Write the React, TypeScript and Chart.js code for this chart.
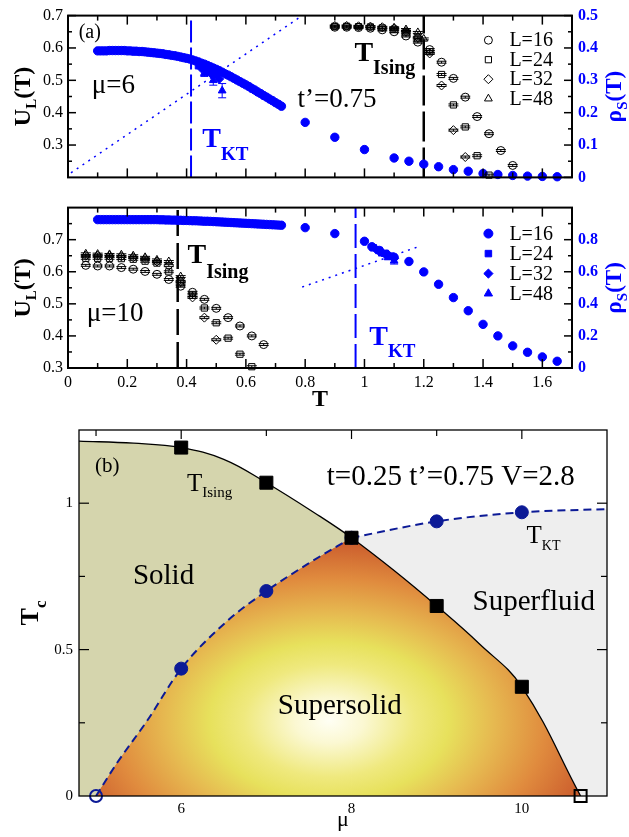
import React, { useEffect, useRef } from 'react';
import { Chart, registerables } from 'chart.js';

Chart.register(...registerables);

const SERIF = '"Liberation Serif", "Times New Roman", serif';
const BLUE = '#0000ff';
const NAVY = '#0c1a96';
const OLIVE = '#d5d5ad';
const GREY = '#eeeeee';
const F = (size: number, bold = false) => `${bold ? 'bold ' : ''}${size}px ${SERIF}`;

// ================= Panel (a), upper: mu = 6 =================
const tBand = [0.10,0.11,0.12,0.13,0.14,0.15,0.16,0.17,0.18,0.19,0.20,0.21,0.22,0.23,0.24,0.25,0.26,0.27,0.28,0.29,0.30,0.31,0.32,0.33,0.34,0.35,0.36,0.37,0.38,0.39,0.40,0.41,0.42,0.43,0.44,0.45,0.46,0.47,0.48,0.49,0.50,0.51,0.52,0.53,0.54,0.55,0.56,0.57,0.58,0.59,0.60,0.61,0.62,0.63,0.64,0.65,0.66,0.67,0.68,0.69,0.70,0.71,0.72];
const rhoBandTop = [0.391,0.391,0.391,0.391,0.392,0.392,0.392,0.392,0.392,0.392,0.391,0.391,0.390,0.390,0.389,0.389,0.388,0.387,0.386,0.385,0.384,0.383,0.382,0.380,0.379,0.377,0.376,0.374,0.372,0.370,0.368,0.366,0.363,0.360,0.357,0.353,0.350,0.346,0.342,0.338,0.334,0.330,0.325,0.320,0.316,0.311,0.306,0.301,0.296,0.291,0.286,0.281,0.275,0.270,0.264,0.259,0.253,0.248,0.242,0.237,0.231,0.226,0.220];
const tTailTop = [0.8,0.9,1.0,1.1,1.15,1.2,1.25,1.3,1.35,1.4,1.45,1.5,1.55,1.6,1.65];
const rhoTailTop = [0.170,0.124,0.086,0.060,0.050,0.041,0.033,0.024,0.019,0.012,0.009,0.006,0.004,0.003,0.002];
const tRho24Top = [0.44,0.46,0.48,0.50];
const rho24Top = [0.345,0.336,0.327,0.318];
const tRho32Top = [0.45,0.47,0.49,0.51];
const rho32Top = [0.337,0.326,0.314,0.304];
const tRho48Top = [0.46,0.49,0.52];
const rho48Top = [0.322,0.300,0.268];
const err48Top = [0.010,0.015,0.022];
const critTopT = [0.01, 0.79];
const critTopRho = [0.014, 0.5];
const tKTTop = [0.415, 0.415];
const tIsingTop = [1.2, 1.2];
const uSpanTop = [0.2, 0.7];

const tUTop = [0.9,0.94,0.98,1.02,1.06,1.10,1.14,1.18,1.22,1.26,1.30,1.34,1.38,1.42,1.46,1.50];
const u16Top = [0.664,0.664,0.663,0.661,0.656,0.650,0.637,0.618,0.595,0.556,0.506,0.448,0.388,0.335,0.283,0.237];
const u24Top = [0.667,0.667,0.666,0.665,0.662,0.658,0.647,0.628,0.588,0.518,0.424,0.356,0.267,0.207];
const u32Top = [0.668,0.668,0.667,0.666,0.664,0.661,0.652,0.633,0.583,0.484,0.346,0.263];
const tU48Top = [1.10,1.14,1.18,1.20];
const u48Top = [0.662,0.657,0.648,0.628];

// ================= Panel (a), lower: mu = 10 =================
const rhoBandMid = [0.925,0.925,0.925,0.925,0.925,0.925,0.925,0.925,0.925,0.925,0.925,0.925,0.925,0.925,0.925,0.925,0.925,0.925,0.925,0.925,0.925,0.924,0.924,0.923,0.923,0.922,0.922,0.921,0.921,0.920,0.920,0.919,0.918,0.918,0.917,0.916,0.915,0.915,0.914,0.913,0.912,0.911,0.910,0.909,0.908,0.907,0.906,0.905,0.904,0.903,0.902,0.901,0.900,0.899,0.898,0.897,0.896,0.895,0.894,0.893,0.892,0.891,0.890];
const tTailMid = [0.8,0.9,1.0,1.025,1.05,1.075,1.1,1.15,1.2,1.25,1.3,1.35,1.4,1.45,1.5,1.55,1.6,1.65];
const rhoTailMid = [0.875,0.838,0.790,0.756,0.733,0.708,0.690,0.664,0.599,0.522,0.439,0.357,0.272,0.200,0.138,0.098,0.069,0.042];
const tRho24Mid = [1.03,1.05,1.07,1.09];
const rho24Mid = [0.750,0.733,0.715,0.698];
const tRho32Mid = [1.04,1.06,1.08,1.10];
const rho32Mid = [0.738,0.720,0.702,0.684];
const tRho48Mid = [1.06,1.08,1.10];
const rho48Mid = [0.712,0.690,0.668];
const err48Mid = [0.010,0.015,0.020];
const critMidT = [0.79, 1.18];
const critMidRho = [0.505, 0.755];
const tIsingMid = [0.37, 0.37];
const tKTMid = [0.97, 0.97];
const uSpanMid = [0.3, 0.8];

const tUMid = [0.06,0.10,0.14,0.18,0.22,0.26,0.30,0.34,0.38,0.42,0.46,0.50,0.54,0.58,0.62,0.66];
const u16Mid = [0.620,0.618,0.618,0.613,0.608,0.601,0.592,0.576,0.555,0.536,0.514,0.486,0.457,0.431,0.400,0.373];
const u24Mid = [0.642,0.642,0.642,0.641,0.639,0.633,0.627,0.600,0.565,0.527,0.487,0.441,0.393,0.343,0.304];
const u32Mid = [0.650,0.650,0.649,0.648,0.645,0.640,0.632,0.619,0.570,0.520,0.457,0.388];
const u48Mid = [0.656,0.655,0.654,0.653,0.650,0.645,0.637,0.632,0.585];

const legendLabels = ['L=16', 'L=24', 'L=32', 'L=48'];

// tick values
const xTickLabels = [0, 0.2, 0.4, 0.6, 0.8, 1, 1.2, 1.4, 1.6];
const xMajor = [0.2, 0.4, 0.6, 0.8, 1, 1.2, 1.4, 1.6];
const xMinor = [0.1, 0.3, 0.5, 0.7, 0.9, 1.1, 1.3, 1.5];
const uLabelsTop = [0.3, 0.4, 0.5, 0.6, 0.7];
const uMinorTop = [0.25, 0.35, 0.45, 0.55, 0.65];
const rhoLabelsTop = [0, 0.1, 0.2, 0.3, 0.4, 0.5];
const rhoMinorTop = [0.05, 0.15, 0.25, 0.35, 0.45];
const uLabelsMid = [0.3, 0.4, 0.5, 0.6, 0.7];
const uMinorMid = [0.35, 0.45, 0.55, 0.65, 0.75];
const rhoLabelsMid = [0, 0.2, 0.4, 0.6, 0.8];
const rhoMajorMid = [0.2, 0.4, 0.6, 0.8];
const rhoMinorMid = [0.1, 0.3, 0.5, 0.7, 0.9];

// ================= Panel (b): phase diagram =================
const isingMu = [4.8, 5.44, 6.0, 6.5, 7.0, 7.63, 8.0, 8.5, 9.0, 9.5, 10.0, 10.69];
const isingT = [1.212, 1.205, 1.19, 1.15, 1.07, 0.955, 0.882, 0.77, 0.649, 0.52, 0.373, 0];
const isingRightMu = [8.0, 8.5, 9.0, 9.5, 10.0, 10.69];
const isingRightT = [0.882, 0.77, 0.649, 0.52, 0.373, 0];
const ktLeftMu = [5.0, 5.24, 5.6, 6.0, 6.53, 7.0, 7.5, 8.0];
const ktLeftT = [0, 0.11, 0.257, 0.435, 0.595, 0.70, 0.795, 0.882];
const ktRightMu = [8.0, 9.0, 10.0, 11.0];
const ktRightT = [0.882, 0.938, 0.969, 0.98];
const supersolidMu = [...ktLeftMu, ...isingRightMu.slice(1)];
const supersolidT = [...ktLeftT, ...isingRightT.slice(1)];
const sqMu = [6, 7, 8, 9, 10];
const sqT = [1.19, 1.07, 0.882, 0.649, 0.373];
const openSqMu = [10.69];
const openSqT = [0];
const circMu = [6, 7, 8, 9, 10];
const circT = [0.435, 0.70, 0.882, 0.938, 0.969];
const openCircMu = [5];
const openCircT = [0];
const muLabels = [6, 8, 10];
const muMajor = [6, 8, 10];
const muMinor = [5, 7, 9];
const tcLabels = [0, 0.5, 1];
const tcMajor = [0.5, 1];
const tcMinor = [0.25, 0.75];

// supersolid shading (style)
const gradCenter = [7.74, 0.257];
const gradRadius = [3.35, 0.64];
const gradStops: [number, string][] = [[0, '#fffff4'], [0.12, '#fbf8d2'], [0.3, '#efe97e'], [0.42, '#e7e15c'], [0.58, '#e6b850'], [0.76, '#e08b3e'], [0.92, '#cf6530'], [1, '#c55427']];

// ================= helpers =================
type Part = { t: string; font: string; dy?: number };
const pts = (xs: number[], ys: number[]) => xs.map((x, i) => ({ x, y: ys[i] }));

function drawParts(ctx: CanvasRenderingContext2D, parts: Part[], x: number, y: number, align: 'left' | 'center') {
  let w = 0;
  for (const p of parts) { ctx.font = p.font; w += ctx.measureText(p.t).width; }
  let cx = align === 'center' ? x - w / 2 : x;
  ctx.textAlign = 'left';
  ctx.textBaseline = 'alphabetic';
  for (const p of parts) {
    ctx.font = p.font;
    ctx.fillText(p.t, cx, y + (p.dy || 0));
    cx += ctx.measureText(p.t).width;
  }
}

function drawMarker(ctx: CanvasRenderingContext2D, style: string, x: number, y: number, r: number, fill: string | null, stroke: string | null) {
  ctx.beginPath();
  if (style === 'circle') ctx.arc(x, y, r, 0, Math.PI * 2);
  else if (style === 'rect') { const s = r * Math.SQRT1_2; ctx.rect(x - s, y - s, 2 * s, 2 * s); }
  else if (style === 'rectRot') { ctx.moveTo(x - r, y); ctx.lineTo(x, y - r); ctx.lineTo(x + r, y); ctx.lineTo(x, y + r); ctx.closePath(); }
  else {
    for (let k = 0; k < 3; k++) {
      const a = (k * 2 * Math.PI) / 3;
      const px = x + Math.sin(a) * r, py = y - Math.cos(a) * r;
      if (k) ctx.lineTo(px, py); else ctx.moveTo(px, py);
    }
    ctx.closePath();
  }
  if (fill) { ctx.fillStyle = fill; ctx.fill(); }
  if (stroke) { ctx.strokeStyle = stroke; ctx.lineWidth = 1; ctx.stroke(); }
}

function deco(cfg: any) {
  return {
    id: 'deco',
    afterDatasetsDraw(chart: any) {
      const ctx: CanvasRenderingContext2D = chart.ctx;
      const a = chart.chartArea;
      ctx.save();
      chart.data.datasets.forEach((ds: any, i: number) => {
        if (ds.errs === undefined) return;
        const meta = chart.getDatasetMeta(i);
        const ys = chart.scales[ds.yAxisID || 'y'];
        ctx.strokeStyle = ds.errColor || '#000';
        ctx.lineWidth = 1;
        meta.data.forEach((pt: any, j: number) => {
          const v = ds.data[j].y;
          const e = Array.isArray(ds.errs) ? ds.errs[j] : ds.errs;
          const cap = ds.cap || 4;
          const y1 = ys.getPixelForValue(v + e), y2 = ys.getPixelForValue(v - e);
          ctx.beginPath();
          ctx.moveTo(pt.x, y1); ctx.lineTo(pt.x, y2);
          ctx.moveTo(pt.x - cap, y1); ctx.lineTo(pt.x + cap, y1);
          ctx.moveTo(pt.x - cap, y2); ctx.lineTo(pt.x + cap, y2);
          ctx.stroke();
        });
      });
      ctx.strokeStyle = '#000';
      ctx.lineWidth = cfg.frameWidth;
      ctx.strokeRect(a.left, a.top, a.right - a.left, a.bottom - a.top);
      ctx.lineWidth = cfg.tickWidth;
      for (const tk of cfg.ticks) {
        const s = chart.scales[tk.scale];
        const draw = (vals: number[], len: number) => {
          for (const v of vals) {
            const p = s.getPixelForValue(v);
            for (const e of tk.edges) {
              ctx.beginPath();
              if (e === 'bottom') { ctx.moveTo(p, a.bottom); ctx.lineTo(p, a.bottom - len); }
              else if (e === 'top') { ctx.moveTo(p, a.top); ctx.lineTo(p, a.top + len); }
              else if (e === 'left') { ctx.moveTo(a.left, p); ctx.lineTo(a.left + len, p); }
              else { ctx.moveTo(a.right, p); ctx.lineTo(a.right - len, p); }
              ctx.stroke();
            }
          }
        };
        draw(tk.major, tk.ml);
        draw(tk.minor, tk.nl);
      }
      ctx.restore();
    },
    afterDraw(chart: any) {
      const ctx: CanvasRenderingContext2D = chart.ctx;
      const a = chart.chartArea;
      ctx.save();
      for (const tx of cfg.texts || []) {
        const x = chart.scales.x.getPixelForValue(tx.x);
        const y = chart.scales[tx.axis || 'y'].getPixelForValue(tx.y);
        ctx.fillStyle = tx.color || '#000';
        drawParts(ctx, tx.parts, x, y, 'left');
      }
      if (cfg.legend) {
        const L = cfg.legend;
        const x0 = chart.scales.x.getPixelForValue(L.x);
        const y0 = chart.scales[L.axis].getPixelForValue(L.y);
        L.items.forEach((it: any, k: number) => {
          const y = y0 + k * L.row;
          drawMarker(ctx, it.style, x0, y, it.r, it.fill, it.stroke);
          ctx.fillStyle = '#000';
          ctx.font = L.font;
          ctx.textAlign = 'left';
          ctx.textBaseline = 'middle';
          ctx.fillText(it.label, x0 + L.dx, y + 1);
        });
      }
      for (const t of cfg.titles || []) {
        ctx.fillStyle = t.color || '#000';
        if (t.side === 'bottom') {
          drawParts(ctx, t.parts, (a.left + a.right) / 2, a.bottom + t.off, 'center');
        } else {
          const bx = (t.side === 'left' ? a.left : a.right) + t.off;
          const cy = (a.top + a.bottom) / 2;
          ctx.save();
          ctx.translate(bx, cy);
          ctx.rotate(-Math.PI / 2);
          drawParts(ctx, t.parts, 0, 0, 'center');
          ctx.restore();
        }
      }
      ctx.restore();
    },
  };
}

function axis(o: any) {
  return {
    type: 'linear',
    position: o.position,
    min: o.min,
    max: o.max,
    grid: { display: false, drawTicks: false },
    border: { display: false },
    ticks: {
      display: o.show !== false,
      autoSkip: false,
      maxRotation: 0,
      padding: o.pad ?? 5,
      color: o.color ?? '#000',
      font: o.font,
      callback: (v: number) => String(v),
    },
    afterBuildTicks: (s: any) => { s.ticks = o.labels.map((v: number) => ({ value: v })); },
    afterFit: (s: any) => {
      if (o.width !== undefined) s.width = o.width;
      if (o.height !== undefined) s.height = o.height;
    },
  };
}

function marks(xs: number[], ys: number[], yAxisID: string, style: string, r: number, fill: string, stroke: string, extra: any = {}) {
  return {
    type: 'scatter', data: pts(xs, ys), yAxisID, pointStyle: style, pointRadius: r,
    pointBackgroundColor: fill, pointBorderColor: stroke, pointBorderWidth: 1,
    showLine: false, clip: false, order: 1, ...extra,
  };
}

function segLine(xs: number[], ys: number[], yAxisID: string, color: string, width: number, dash: number[], extra: any = {}) {
  return {
    type: 'line', data: pts(xs, ys), yAxisID, borderColor: color, borderWidth: width, borderDash: dash,
    pointRadius: 0, fill: false, tension: 0, order: 10, ...extra,
  };
}

const common = (padTop: number, padRight: number) => ({
  responsive: false,
  animation: false,
  events: [],
  layout: { padding: { top: padTop, right: padRight, left: 0, bottom: 0 }, autoPadding: false },
  plugins: { legend: { display: false }, tooltip: { enabled: false } },
});

const tickFont = { family: SERIF, size: 16 };
const rhoFont = { family: SERIF, size: 16, weight: 'bold' };
const NONE = 'rgba(0,0,0,0)';

const uTitle: Part[] = [{ t: 'U', font: F(24, true) }, { t: 'L', font: F(15, true), dy: 6 }, { t: '(T)', font: F(24, true) }];
const rhoTitle: Part[] = [{ t: 'ρ', font: F(23, true) }, { t: 'S', font: F(15, true), dy: 6 }, { t: '(T)', font: F(23, true) }];

function blackSets(t16: number[], u16: number[], u24: number[], u32: number[], t48: number[], u48: number[]) {
  const ex = { errs: 0.003, cap: 5 };
  return [
    marks(t16, u16, 'y', 'circle', 4, NONE, '#000', ex),
    marks(t16.slice(0, u24.length), u24, 'y', 'rect', 4.4, NONE, '#000', ex),
    marks(t16.slice(0, u32.length), u32, 'y', 'rectRot', 4.5, NONE, '#000', ex),
    marks(t48, u48, 'y', 'triangle', 4.5, NONE, '#000', ex),
  ];
}

function buildA() {
  return {
    type: 'scatter',
    data: {
      datasets: [
        segLine(tKTTop, uSpanTop, 'y', BLUE, 2, [22, 5]),
        segLine(tIsingTop, uSpanTop, 'y', '#000', 2.5, [30, 6]),
        segLine(critTopT, critTopRho, 'y1', BLUE, 1.5, [2, 5]),
        marks(tBand, rhoBandTop, 'y1', 'circle', 4.2, BLUE, BLUE, { order: 3 }),
        marks(tTailTop, rhoTailTop, 'y1', 'circle', 4.2, BLUE, BLUE, { order: 3 }),
        marks(tRho24Top, rho24Top, 'y1', 'rect', 4.5, BLUE, BLUE, { order: 3 }),
        marks(tRho32Top, rho32Top, 'y1', 'rectRot', 4.5, BLUE, BLUE, { order: 3 }),
        marks(tRho48Top, rho48Top, 'y1', 'triangle', 4.5, BLUE, BLUE, { order: 3, errs: err48Top, errColor: BLUE, cap: 4 }),
        ...blackSets(tUTop, u16Top, u24Top, u32Top, tU48Top, u48Top),
      ],
    },
    options: {
      ...common(15, 0),
      scales: {
        x: axis({ position: 'bottom', min: 0, max: 1.7, labels: xTickLabels, show: false, height: 3, font: tickFont }),
        y: axis({ position: 'left', min: 0.2, max: 0.7, labels: uLabelsTop, width: 68, pad: 5, font: tickFont }),
        y1: axis({ position: 'right', min: 0, max: 0.5, labels: rhoLabelsTop, width: 57, pad: 6, font: rhoFont, color: BLUE }),
      },
    },
    plugins: [deco({
      frameWidth: 2, tickWidth: 1.5,
      ticks: [
        { scale: 'x', edges: ['bottom', 'top'], major: xMajor, minor: xMinor, ml: 9, nl: 5 },
        { scale: 'y', edges: ['left'], major: uLabelsTop, minor: uMinorTop, ml: 8, nl: 4 },
        { scale: 'y1', edges: ['right'], major: rhoLabelsTop, minor: rhoMinorTop, ml: 8, nl: 4 },
      ],
      texts: [
        { x: 0.036, y: 0.631, parts: [{ t: '(a)', font: F(20) }] },
        { x: 0.08, y: 0.46, parts: [{ t: 'μ=6', font: F(27) }] },
        { x: 0.774, y: 0.417, parts: [{ t: 't’=0.75', font: F(27) }] },
        { x: 0.453, y: 0.295, color: BLUE, parts: [{ t: 'T', font: F(28, true) }, { t: 'KT', font: F(19, true), dy: 13 }] },
        { x: 0.966, y: 0.561, parts: [{ t: 'T', font: F(28, true) }, { t: 'Ising', font: F(20, true), dy: 13 }] },
      ],
      legend: {
        x: 1.418, y: 0.624, axis: 'y', row: 19.5, dx: 21, font: F(20),
        items: [
          { label: legendLabels[0], style: 'circle', r: 4, fill: null, stroke: '#000' },
          { label: legendLabels[1], style: 'rect', r: 4.4, fill: null, stroke: '#000' },
          { label: legendLabels[2], style: 'rectRot', r: 4.5, fill: null, stroke: '#000' },
          { label: legendLabels[3], style: 'triangle', r: 4.5, fill: null, stroke: '#000' },
        ],
      },
      titles: [
        { side: 'left', off: -38, parts: uTitle },
        { side: 'right', off: 49, parts: rhoTitle, color: BLUE },
      ],
    })],
  };
}

function buildB() {
  return {
    type: 'scatter',
    data: {
      datasets: [
        segLine(tIsingMid, uSpanMid, 'y', '#000', 2.5, [26, 7]),
        segLine(tKTMid, uSpanMid, 'y', BLUE, 2, [24, 6]),
        segLine(critMidT, critMidRho, 'y1', BLUE, 1.5, [2, 5]),
        marks(tBand, rhoBandMid, 'y1', 'circle', 4.2, BLUE, BLUE, { order: 3 }),
        marks(tTailMid, rhoTailMid, 'y1', 'circle', 4.2, BLUE, BLUE, { order: 3 }),
        marks(tRho24Mid, rho24Mid, 'y1', 'rect', 4.5, BLUE, BLUE, { order: 3 }),
        marks(tRho32Mid, rho32Mid, 'y1', 'rectRot', 4.5, BLUE, BLUE, { order: 3 }),
        marks(tRho48Mid, rho48Mid, 'y1', 'triangle', 4.5, BLUE, BLUE, { order: 3, errs: err48Mid, errColor: BLUE, cap: 4 }),
        ...blackSets(tUMid, u16Mid, u24Mid, u32Mid, tUMid.slice(0, u48Mid.length), u48Mid),
      ],
    },
    options: {
      ...common(3, 0),
      scales: {
        x: axis({ position: 'bottom', min: 0, max: 1.7, labels: xTickLabels, height: 47, pad: 5, font: tickFont }),
        y: axis({ position: 'left', min: 0.3, max: 0.8, labels: uLabelsMid, width: 68, pad: 5, font: tickFont }),
        y1: axis({ position: 'right', min: 0, max: 1.0, labels: rhoLabelsMid, width: 57, pad: 6, font: rhoFont, color: BLUE }),
      },
    },
    plugins: [deco({
      frameWidth: 2, tickWidth: 1.5,
      ticks: [
        { scale: 'x', edges: ['bottom', 'top'], major: xMajor, minor: xMinor, ml: 9, nl: 5 },
        { scale: 'y', edges: ['left'], major: uLabelsMid, minor: uMinorMid, ml: 8, nl: 4 },
        { scale: 'y1', edges: ['right'], major: rhoMajorMid, minor: rhoMinorMid, ml: 8, nl: 4 },
      ],
      texts: [
        { x: 0.063, y: 0.448, parts: [{ t: 'μ=10', font: F(27) }] },
        { x: 0.403, y: 0.628, parts: [{ t: 'T', font: F(28, true) }, { t: 'Ising', font: F(20, true), dy: 15 }] },
        { x: 1.016, y: 0.372, color: BLUE, parts: [{ t: 'T', font: F(28, true) }, { t: 'KT', font: F(19, true), dy: 12 }] },
      ],
      legend: {
        x: 1.418, y: 0.719, axis: 'y', row: 20, dx: 21, font: F(20),
        items: [
          { label: legendLabels[0], style: 'circle', r: 4.5, fill: BLUE, stroke: BLUE },
          { label: legendLabels[1], style: 'rect', r: 4.6, fill: BLUE, stroke: BLUE },
          { label: legendLabels[2], style: 'rectRot', r: 4.6, fill: BLUE, stroke: BLUE },
          { label: legendLabels[3], style: 'triangle', r: 4.8, fill: BLUE, stroke: BLUE },
        ],
      },
      titles: [
        { side: 'left', off: -38, parts: uTitle },
        { side: 'right', off: 49, parts: rhoTitle, color: BLUE },
        { side: 'bottom', off: 38, parts: [{ t: 'T', font: F(24, true) }] },
      ],
    })],
  };
}

const patCache = new WeakMap<any, any>();
function supersolidFill(chart: any) {
  const area = chart.chartArea;
  if (!area || !chart.scales || !chart.scales.x) return '#e6b850';
  const hit = patCache.get(chart);
  if (hit) return hit;
  const xs = chart.scales.x, ys = chart.scales.y;
  const cx = xs.getPixelForValue(gradCenter[0]);
  const cy = ys.getPixelForValue(gradCenter[1]);
  const rx = Math.abs(xs.getPixelForValue(gradCenter[0] + gradRadius[0]) - cx);
  const ry = Math.abs(ys.getPixelForValue(gradCenter[1] + gradRadius[1]) - cy);
  const off = document.createElement('canvas');
  off.width = chart.canvas.width;
  off.height = chart.canvas.height;
  const c = off.getContext('2d')!;
  c.setTransform(1, 0, 0, ry / rx, cx, cy);
  const g = c.createRadialGradient(0, 0, 0, 0, 0, rx);
  for (const [s, col] of gradStops) g.addColorStop(s, col);
  c.fillStyle = g;
  c.fillRect(-3000, -6000, 6000, 12000);
  const pat = chart.ctx.createPattern(off, 'no-repeat');
  patCache.set(chart, pat);
  return pat;
}

function fillSet(xs: number[], ys: number[], color: any, order: number, extra: any = {}) {
  return {
    type: 'line', data: pts(xs, ys), yAxisID: 'y', borderWidth: 0, borderColor: NONE,
    backgroundColor: color, fill: 'origin', pointRadius: 0, cubicInterpolationMode: 'monotone', order, ...extra,
  };
}

const SMOOTH = { cubicInterpolationMode: 'default', tension: 0.4 };

function buildC() {
  const grad = (c: any) => supersolidFill(c.chart);
  return {
    type: 'scatter',
    data: {
      datasets: [
        fillSet(isingMu, isingT, OLIVE, 20, SMOOTH),
        fillSet(ktRightMu, ktRightT, GREY, 19),
        fillSet(supersolidMu, supersolidT, grad, 18.5, { cubicInterpolationMode: 'default', tension: 0 }),
        fillSet(ktLeftMu, ktLeftT, grad, 18),
        fillSet(isingRightMu, isingRightT, grad, 18, SMOOTH),
        segLine(isingMu, isingT, 'y', '#000', 1.3, [], { ...SMOOTH, order: 10 }),
        segLine(ktLeftMu, ktLeftT, 'y', NAVY, 2, [8, 5], { cubicInterpolationMode: 'monotone', order: 10 }),
        segLine(ktRightMu, ktRightT, 'y', NAVY, 2, [8, 5], { cubicInterpolationMode: 'monotone', order: 10 }),
        marks(circMu, circT, 'y', 'circle', 6.5, NAVY, NAVY, { order: 3 }),
        marks(openCircMu, openCircT, 'y', 'circle', 6, NONE, NAVY, { order: 3, pointBorderWidth: 2 }),
        marks(sqMu, sqT, 'y', 'rect', 9.2, '#000', '#000', { order: 1 }),
        marks(openSqMu, openSqT, 'y', 'rect', 8.5, NONE, '#000', { order: 1, pointBorderWidth: 2 }),
      ],
    },
    options: {
      ...common(11, 22),
      scales: {
        x: axis({ position: 'bottom', min: 4.8, max: 11, labels: muLabels, height: 41, pad: 4, font: { family: SERIF, size: 15 } }),
        y: axis({ position: 'left', min: 0, max: 1.25, labels: tcLabels, width: 79, pad: 6, font: { family: SERIF, size: 15 } }),
      },
    },
    plugins: [deco({
      frameWidth: 1.3, tickWidth: 1.2,
      ticks: [
        { scale: 'x', edges: ['top'], major: muMajor, minor: muMinor, ml: 9, nl: 6 },
        { scale: 'y', edges: ['left', 'right'], major: tcMajor, minor: tcMinor, ml: 10, nl: 6 },
      ],
      texts: [
        { x: 4.988, y: 1.108, parts: [{ t: '(b)', font: F(21) }] },
        { x: 6.067, y: 1.041, parts: [{ t: 'T', font: F(25) }, { t: 'Ising', font: F(15), dy: 6 }] },
        { x: 5.433, y: 0.723, parts: [{ t: 'Solid', font: F(29) }] },
        { x: 7.134, y: 0.28, parts: [{ t: 'Supersolid', font: F(29) }] },
        { x: 9.422, y: 0.635, parts: [{ t: 'Superfluid', font: F(29) }] },
        { x: 7.709, y: 1.061, parts: [{ t: 't=0.25 t’=0.75 V=2.8', font: F(29) }] },
        { x: 10.055, y: 0.865, parts: [{ t: 'T', font: F(25) }, { t: 'KT', font: F(14), dy: 7 }] },
      ],
      titles: [
        { side: 'left', off: -41, parts: [{ t: 'T', font: F(26, true) }, { t: 'c', font: F(17, true), dy: 8 }] },
        { side: 'bottom', off: 30, parts: [{ t: 'μ', font: F(22) }] },
      ],
    })],
  };
}

function Panel({ top, height, build }: { top: number; height: number; build: () => any }) {
  const ref = useRef<HTMLCanvasElement | null>(null);
  useEffect(() => {
    const chart = new Chart(ref.current as HTMLCanvasElement, build());
    return () => chart.destroy();
  }, [build]);
  return (
    <canvas
      ref={ref}
      width={629}
      height={height}
      style={{ position: 'absolute', left: 0, top, width: 629, height, display: 'block' }}
    />
  );
}

export default function App() {
  return (
    <div style={{ position: 'fixed', left: 0, top: 0, width: 629, height: 837, background: '#fff', overflow: 'hidden' }}>
      <Panel top={0} height={193} build={buildA} />
      <Panel top={192} height={223} build={buildB} />
      <Panel top={415} height={422} build={buildC} />
    </div>
  );
}
